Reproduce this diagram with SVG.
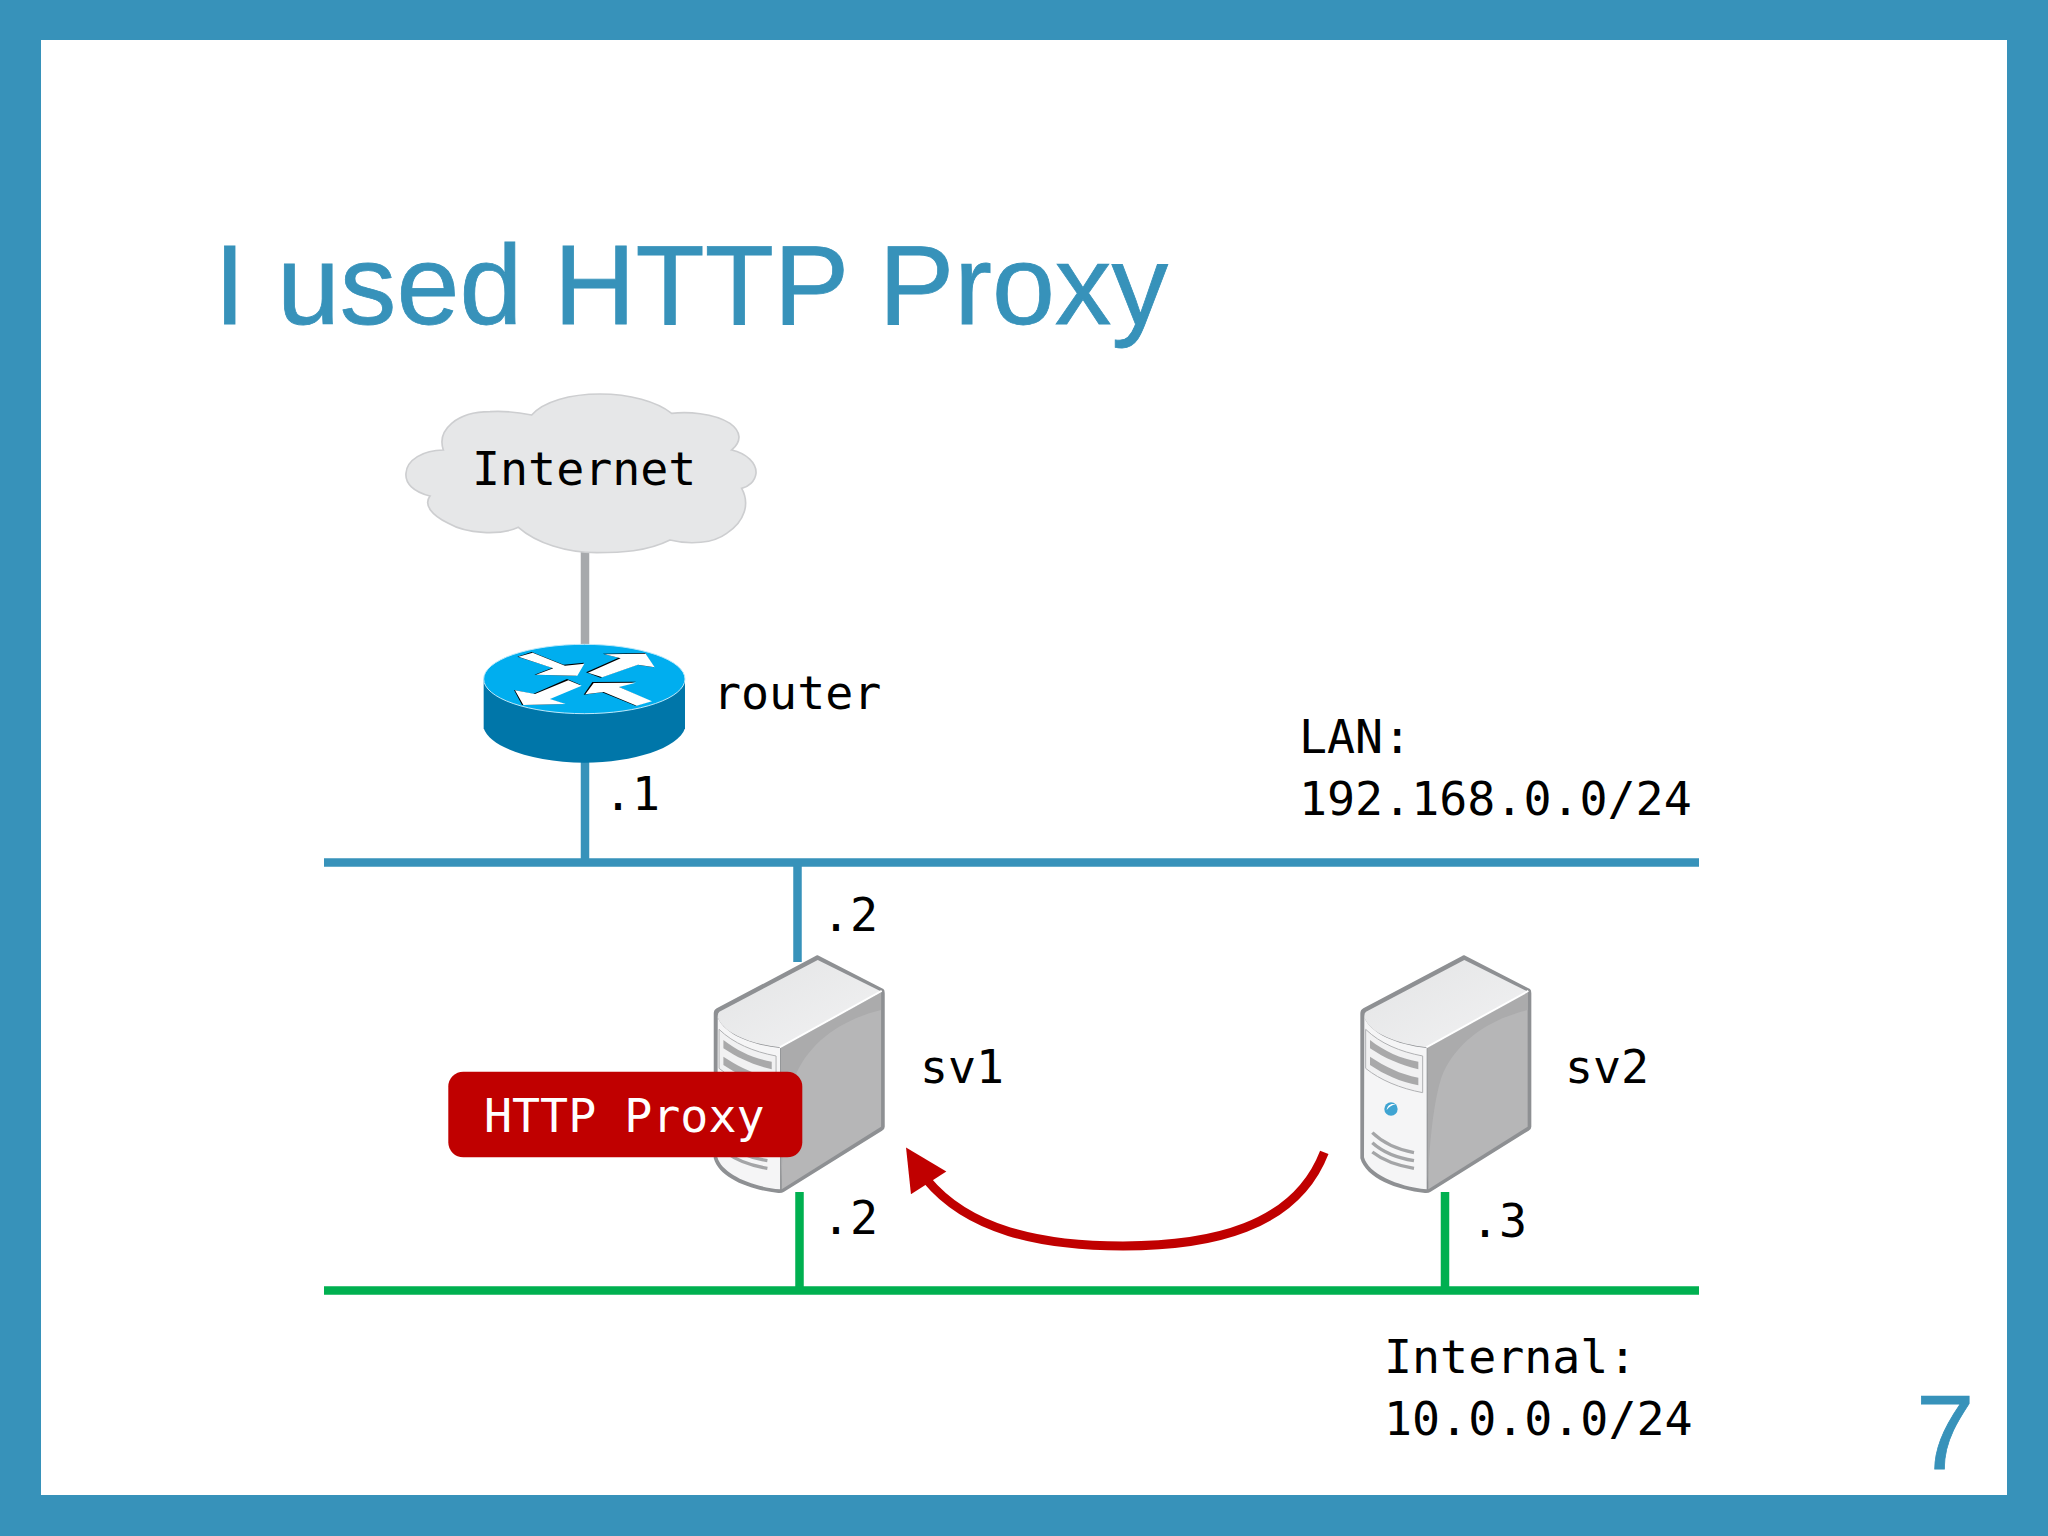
<svg xmlns="http://www.w3.org/2000/svg" xmlns:xlink="http://www.w3.org/1999/xlink" width="2048" height="1536" viewBox="0 0 2048 1536">
<style>
.m{font-family:"DejaVu Sans Mono","Liberation Mono",monospace;font-size:46.6px;fill:#000}
.s{font-family:"Liberation Sans",Arial,sans-serif;fill:#3792BA;stroke:#3792BA;stroke-width:.8}
.lan{stroke:#3792BA;stroke-width:8.5;fill:none}
.int{stroke:#00B050;stroke-width:8.5;fill:none}
.bar{fill:#A9A9AA}
.vent{fill:none;stroke:#A4A5A7;stroke-width:10}
.ra{fill:#fff}
.rb{fill:#000}
</style>
<defs>
<linearGradient id="topface" x1="0" y1="0" x2="1" y2="1"><stop offset="0" stop-color="#E3E4E5"/><stop offset="1" stop-color="#F2F2F3"/></linearGradient>
<marker id="head" markerUnits="userSpaceOnUse" markerWidth="46" markerHeight="46" refX="4" refY="21" orient="237.4" overflow="visible"><path d="M0 0L42 21L0 42Z" fill="#C00000"/></marker>
<g id="server">
<path d="M403 76L600 177Q604 180 604 190L604 590Q604 598 596 602L302 785Q295 790 285 789C200 780 108 745 91 685L91 250Q91 240 100 235L395 79Q400 75 403 76Z" fill="#8E9093"/>
<path d="M403 90L592 184L290 352C200 342 120 310 103 262Q102 250 108 245Z" fill="url(#topface)"/>
<path d="M103 262C120 310 200 345 290 354L290 778C200 770 115 730 102 682Z" fill="#F5F5F6"/>
<path d="M293 354L593 188L593 590L295 778Z" fill="#B6B6B7"/>
<path d="M293 354L593 188L593 240C470 270 375 340 335 440C312 510 300 620 293 760Z" fill="#ABABAC"/>
<path d="M289 352L595 183" stroke="#fff" stroke-width="6" fill="none"/>
<path d="M107 298C150 340 210 365 278 378L278 488C210 475 150 450 107 415Z" fill="#F1F1F2" stroke="#B0B1B3" stroke-width="3"/>
<path class="bar" d="M120 330C165 365 210 385 265 395L265 418C210 405 165 385 120 355Z"/>
<path class="bar" d="M120 380C165 410 210 432 265 443L265 466C210 455 165 435 120 405Z"/>
<circle cx="183" cy="537" r="20" fill="#3FA4D2"/>
<path d="M170 540C172 525 185 518 197 524C185 524 178 530 170 540Z" fill="#fff"/>
<path class="vent" d="M127 608C160 640 210 660 252 668"/>
<path class="vent" d="M127 638C160 668 210 685 252 692"/>
<path class="vent" d="M127 666C160 692 210 708 252 715"/>
</g>
</defs>
<g id="frame">
<rect width="2048" height="1536" fill="#3792BA"/>
<rect x="41" y="40" width="1966" height="1455" fill="#fff"/>
</g>
<text id="title" class="s" x="214" y="324" font-size="113.200">I used HTTP Proxy</text>
<text id="page" class="s" x="1916" y="1469" font-size="105">7</text>
<g id="connectors">
<path d="M585 550V648" stroke="#A7A9AC" stroke-width="8.5" fill="none"/>
<path class="lan" d="M324 862.500H1699M585 760V862M797.500 862V962"/>
<path class="int" d="M324 1290.500H1699M799.500 1192V1290M1445 1192V1290"/>
<path d="M1324.300 1152.300C1295 1228 1210 1246 1123 1246C1040 1246 968 1230 926.500 1179.500" fill="none" stroke="#C00000" stroke-width="9" marker-end="url(#head)"/>
</g>
<g id="internet">
<path transform="translate(380 370) scale(.33333)" d="M190 240C170 180 230 125 330 125C380 122 430 130 455 135C490 95 570 72 660 72C750 72 830 95 875 130C920 125 1000 128 1050 160C1085 185 1085 215 1055 240C1100 250 1130 280 1128 310C1125 335 1105 350 1085 355C1110 400 1095 455 1040 490C1000 520 930 525 870 510C800 545 720 548 650 548C560 548 470 520 415 472C360 497 260 492 205 460C155 435 130 405 150 378C100 365 75 340 78 310C80 270 130 240 190 240Z" fill="#E6E7E8" stroke="#CDCED0" stroke-width="5"/>
<text class="m" x="472" y="485">Internet</text>
</g>
<g id="router">
<g transform="translate(380 370) scale(.33333)">
<path d="M311 927V1075C330 1135 470 1178 613 1178C760 1178 895 1135 915 1075V927Z" fill="#0076A9"/>
<ellipse cx="613" cy="927" rx="302" ry="104" fill="#00AEEF" stroke="#BFE9FA" stroke-width="3"/>
<path class="rb" d="M463 914L518 893L412 860L455 846L551 884L612 878L588 917Z M618 907L716 863L668 851L795 849L822 892L772 884L661 923Z M402 960L459 972L561 927L601 944L506 987L553 1002L426 1005Z M611 974L637 936L768 935L715 950L811 994L766 1007L666 967Z"/>
<path class="ra" d="M415 860L458 848L555 887L613 881L592 917L468 914L520 895Z"/>
<path class="ra" d="M624 908L722 865L674 853L797 851L824 892L774 884L667 922Z"/>
<path class="ra" d="M405 961L465 972L565 931L605 947L510 987L557 1002L430 1005Z"/>
<path class="ra" d="M616 973L641 939L768 938L717 951L816 994L770 1007L671 966Z"/>
</g>
<text class="m" x="713" y="709">router</text>
</g>
<g id="sv1">
<use xlink:href="#server" href="#server" transform="translate(683.400 930) scale(.33333)"/>
<text class="m" x="920" y="1083">sv1</text>
</g>
<g id="sv2">
<use xlink:href="#server" href="#server" transform="translate(1330 930) scale(.33333)"/>
<text class="m" x="1565" y="1083">sv2</text>
</g>
<g id="proxy">
<rect x="448.300" y="1071.700" width="354" height="85.600" rx="15" fill="#C00000"/>
<text class="m" x="484" y="1132" style="fill:#fff">HTTP Proxy</text>
</g>
<g id="labels">
<text class="m" x="604" y="810">.1</text>
<text class="m" x="1299" y="753">LAN:</text>
<text class="m" x="1299" y="815">192.168.0.0/24</text>
<text class="m" x="822" y="931">.2</text>
<text class="m" x="822" y="1234">.2</text>
<text class="m" x="1471" y="1237">.3</text>
<text class="m" x="1384" y="1373">Internal:</text>
<text class="m" x="1384" y="1435">10.0.0.0/24</text>
</g>
</svg>
